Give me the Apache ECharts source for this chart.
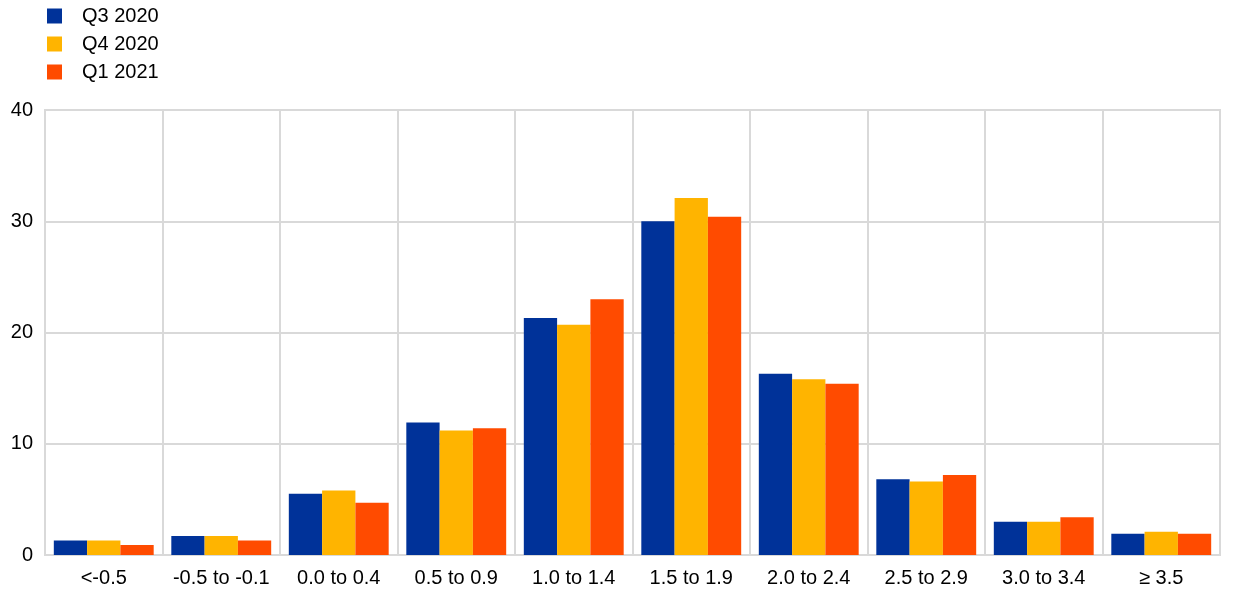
<!DOCTYPE html>
<html><head><meta charset="utf-8">
<script src="https://cdn.jsdelivr.net/npm/echarts@6/dist/echarts.min.js"></script>
<style>html,body{margin:0;padding:0;background:#fff}#c{width:1240px;height:604px}</style>
</head><body><div id="c"></div>
<script>
const categories = ['<-0.5','-0.5 to -0.1','0.0 to 0.4','0.5 to 0.9','1.0 to 1.4','1.5 to 1.9','2.0 to 2.4','2.5 to 2.9','3.0 to 3.4','≥ 3.5'];
const seriesNames = ['Q3 2020','Q4 2020','Q1 2021'];
const q3_2020 = [1.3, 1.7, 5.5, 11.9, 21.3, 30.0, 16.3, 6.8, 3.0, 1.9];
const q4_2020 = [1.3, 1.7, 5.8, 11.2, 20.7, 32.1, 15.8, 6.6, 3.0, 2.1];
const q1_2021 = [0.9, 1.3, 4.7, 11.4, 23.0, 30.4, 15.4, 7.2, 3.4, 1.9];
const colors = ['#003299','#FFB400','#FF4B00'];
const yTicks = [0,10,20,30,40];

const chart = echarts.init(document.getElementById('c'));
const font = 'Liberation Sans, Arial, sans-serif';
chart.setOption({
  animation:false,
  color: colors,
  textStyle:{fontFamily:font},
  legend:{
    orient:'vertical', left:42, top:1, itemWidth:15, itemHeight:15, itemGap:8,
    icon:'rect',
    textStyle:{fontSize:20, color:'#000', fontFamily:font, padding:[0,0,0,15]},
    data: seriesNames
  },
  grid:{left:45, right:20, top:110, bottom:49, show:true, borderColor:'#d9d9d9', borderWidth:2},
  xAxis:{
    type:'category', data:categories,
    axisLine:{show:true, lineStyle:{color:'#d9d9d9', width:2}},
    axisTick:{show:false},
    splitLine:{show:true, lineStyle:{color:'#d9d9d9', width:2}},
    axisLabel:{color:'#000', fontSize:20, margin:13, fontFamily:font, interval:0}
  },
  yAxis:{
    type:'value', min:yTicks[0], max:yTicks[yTicks.length-1], interval:10,
    axisLine:{show:true, lineStyle:{color:'#d9d9d9', width:2}},
    axisTick:{show:false},
    splitLine:{show:true, lineStyle:{color:'#d9d9d9', width:2}},
    axisLabel:{color:'#000', fontSize:20, margin:12, fontFamily:font}
  },
  series:[
    {name:seriesNames[0], type:'bar', data:q3_2020, barGap:'0%', barCategoryGap:'15%'},
    {name:seriesNames[1], type:'bar', data:q4_2020, barGap:'0%', barCategoryGap:'15%'},
    {name:seriesNames[2], type:'bar', data:q1_2021, barGap:'0%', barCategoryGap:'15%'}
  ]
});
</script></body></html>
